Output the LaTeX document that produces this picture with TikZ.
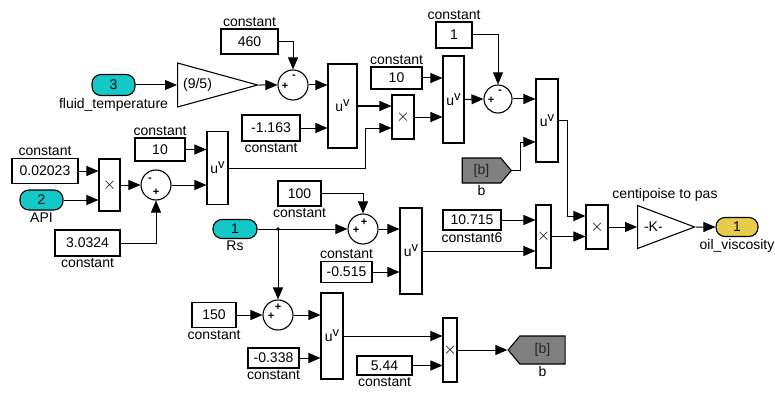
\documentclass[tikz,border=0pt]{standalone}
\usepackage{fontspec}
\setmainfont{Liberation Sans}
\usetikzlibrary{positioning,arrows.meta,shapes.geometric,shapes.symbols}
\definecolor{inportcyan}{RGB}{20,200,200}
\definecolor{outportyellow}{RGB}{230,204,77}
\definecolor{tagGray}{RGB}{128,128,128}
\newcommand{\upow}{u\raisebox{5pt}{\fontsize{13}{13}\selectfont v}}

\begin{document}
\begin{tikzpicture}[x=1pt, y=-1pt,
        font=\fontsize{14}{16}\selectfont,
        label distance=1pt,
        blk/.style={draw, line width=1.1pt, inner sep=0pt, fill=white},
        prod/.style={blk, font=\fontsize{18}{18}\selectfont},
        sumc/.style={draw, line width=1.1pt, circle, minimum size=30, inner sep=0pt},
        sg/.style={font=\fontsize{11}{11}\selectfont\bfseries, inner sep=0pt},
        port/.style={draw, line width=1.1pt, rounded corners=9pt, inner sep=0pt},
        gain/.style={draw, line width=1.1pt, isosceles triangle, isosceles triangle stretches,
            shape border rotate=0, inner sep=1pt},
        tag/.style={draw, line width=1.1pt, signal, fill=tagGray, signal pointer angle=100,
            inner sep=0pt, text=black!85},
        lbl/.style={inner sep=1pt},
        sig/.style={line width=1pt, -{Triangle[length=12pt,width=10pt]}},
    ]
    \useasboundingbox (0,0) rectangle (775,393);

    % inports and outport
    \node[port, fill=inportcyan, minimum width=43, minimum height=21,
        label={[lbl]below:fluid\_temperature}] (in3) at (113.5,85) {3};
    \node[port, fill=inportcyan, minimum width=43, minimum height=20,
        label={[lbl]below:API}] (in2) at (41.5,200) {2};
    \node[port, fill=inportcyan, minimum width=44, minimum height=19,
        label={[lbl]below:Rs}] (in1) at (235,229) {1};
    \node[port, fill=outportyellow, minimum width=42, minimum height=19,
        label={[lbl]below:oil\_viscosity}] (out1) at (737,227) {1};

    % constants
    \node[blk, minimum width=57, minimum height=25, label={[lbl]above:constant}] (c460) at (249.5,41.5) {460};
    \node[blk, minimum width=50, minimum height=23, label={[lbl]above:constant}] (c10a) at (160,149.5) {10};
    \node[blk, minimum width=66, minimum height=25, label={[lbl]above:constant}] (c02023) at (45,171) {0.02023};
    \node[blk, minimum width=65, minimum height=26, label={[lbl]below:constant}] (c30324) at (87.5,243) {3.0324};
    \node[blk, minimum width=58, minimum height=26, label={[lbl]below:constant}] (c1163) at (271,128) {-1.163};
    \node[blk, minimum width=51, minimum height=22, label={[lbl]above:constant}] (c10b) at (396.5,78) {10};
    \node[blk, minimum width=36, minimum height=26, label={[lbl]above:constant}] (c1) at (454,35) {1};
    \node[blk, minimum width=43, minimum height=25, label={[lbl]below:constant}] (c100) at (299.5,193.5) {100};
    \node[blk, minimum width=51, minimum height=21, label={[lbl]above:constant}] (c0515) at (346.5,272) {-0.515};
    \node[blk, minimum width=44, minimum height=25, label={[lbl]below:constant}] (c150) at (214,315) {150};
    \node[blk, minimum width=51, minimum height=20, label={[lbl]below:constant}] (c0338) at (273.5,358) {-0.338};
    \node[blk, minimum width=58, minimum height=20, label={[lbl]below:constant6}] (c10715) at (472,220) {10.715};
    \node[blk, minimum width=55, minimum height=19, label={[lbl]below:constant}] (c544) at (384.5,365.5) {5.44};

    % products
    \node[prod, minimum width=21, minimum height=52] (p1) at (109.5,185) {$\times$};
    \node[prod, minimum width=22, minimum height=44] (p2) at (403,117) {$\times$};
    \node[prod, minimum width=15, minimum height=63] (p3) at (543.5,236.5) {$\times$};
    \node[prod, minimum width=22, minimum height=44] (p4) at (597,227) {$\times$};
    \node[prod, minimum width=14, minimum height=64] (p5) at (450,350) {$\times$};

    % powers
    \node[blk, minimum width=21, minimum height=73] (pw1) at (217.5,168) {\upow};
    \node[blk, minimum width=29, minimum height=84] (pw2) at (342.5,106) {\upow};
    \node[blk, minimum width=21, minimum height=87] (pw3) at (453.5,99.5) {\upow};
    \node[blk, minimum width=22, minimum height=83] (pw4) at (547,120.5) {\upow};
    \node[blk, minimum width=22, minimum height=86] (pw5) at (411,251) {\upow};
    \node[blk, minimum width=22, minimum height=86] (pw6) at (332,336) {\upow};

    % sums
    \node[sumc] (s1) at (156,185) {};
    \node[sg] at ([shift={(-6,-5)}]s1.center) {-};
    \node[sg] at ([shift={(0,7)}]s1.center) {+};
    \node[sumc] (s2) at (293,85) {};
    \node[sg] at ([shift={(-8,1)}]s2.center) {+};
    \node[sg] at ([shift={(1,-8)}]s2.center) {-};
    \node[sumc, minimum size=28] (s3) at (498,99) {};
    \node[sg] at ([shift={(-7,1)}]s3.center) {+};
    \node[sg] at ([shift={(2,-7)}]s3.center) {-};
    \node[sumc] (s4) at (363,229) {};
    \node[sg] at ([shift={(-7,1)}]s4.center) {+};
    \node[sg] at ([shift={(1,-7)}]s4.center) {+};
    \node[sumc] (s5) at (278,315) {};
    \node[sg] at ([shift={(-7,1)}]s5.center) {+};
    \node[sg] at ([shift={(0,-8)}]s5.center) {+};

    % gains
    \node[gain, minimum height=80, minimum width=44, anchor=west] (g1) at (177,85) {(9/5)};
    \node[gain, minimum height=57, minimum width=43, anchor=west] (gK) at (637,227) {-K-};
    \node[lbl] (gKname) at (665,195) {centipoise to pas};

    % from / goto
    \node[tag, signal to=east, minimum width=49, minimum height=25,
        label={[lbl]below:b}] (fromb) at (481.5,170.5) {[b]};
    \node[tag, signal to=west, minimum width=57, minimum height=28,
        label={[lbl]below:b}] (gotob) at (542.5,350) {[b]};

    % wiring, left
    \draw[sig] (c02023.east) -- (c02023.east -| p1.west);
    \draw[sig] (in2.east) -- (in2.east -| p1.west);
    \draw[sig] (p1.east) -- (s1.west);
    \draw[sig] (c30324.east) -| (s1.south);
    \draw[sig] (s1.east) -- (s1.east -| pw1.west);
    \draw[sig] (c10a.east) -- (c10a.east -| pw1.west);
    \coordinate (k1) at (365,128);
    \draw[sig] (pw1.east) -| (k1) -- (k1 -| p2.west);

    % wiring, top
    \draw[sig] (in3.east) -- (g1.west);
    \draw[sig] (g1.apex) -- (s2.west);
    \draw[sig] (c460.east) -| (s2.north);
    \draw[sig] (s2.east) -- (s2.east -| pw2.west);
    \draw[sig] (c1163.east) -- (c1163.east -| pw2.west);
    \draw[sig] (pw2.east) -- (pw2.east -| p2.west);
    \draw[sig] (c10b.east) -- (c10b.east -| pw3.west);
    \draw[sig] (p2.east) -- (p2.east -| pw3.west);
    \draw[sig] (pw3.east) -- (s3.west);
    \draw[sig] (c1.east) -| (s3.north);
    \draw[sig] (s3.east) -- (s3.east -| pw4.west);
    \coordinate (k2) at (520,142);
    \draw[sig] (fromb.east) -| (k2) -- (k2 -| pw4.west);
    \coordinate (k3) at (567,216);
    \draw[sig] (pw4.east) -| (k3) -- (k3 -| p4.west);
    \draw[sig] (p3.east) -- (p3.east -| p4.west);
    \draw[sig] (p4.east) -- (gK.west);
    \draw[sig] (gK.apex) -- (out1.west);

    % wiring, middle
    \coordinate (rsdot) at (s5.north |- in1.east);
    \draw[sig] (in1.east) -- (s4.west);
    \fill (rsdot) circle (1.8);
    \draw[sig] (rsdot) -- (s5.north);
    \draw[sig] (c100.east) -| (s4.north);
    \draw[sig] (s4.east) -- (s4.east -| pw5.west);
    \draw[sig] (c0515.east) -- (c0515.east -| pw5.west);
    \draw[sig] (c10715.east) -- (c10715.east -| p3.west);
    \draw[sig] (pw5.east) -- (pw5.east -| p3.west);

    % wiring, bottom
    \draw[sig] (c150.east) -- (s5.west);
    \draw[sig] (s5.east) -- (s5.east -| pw6.west);
    \draw[sig] (c0338.east) -- (c0338.east -| pw6.west);
    \draw[sig] (pw6.east) -- (pw6.east -| p5.west);
    \draw[sig] (c544.east) -- (c544.east -| p5.west);
    \draw[sig] (p5.east) -- (gotob.west);
\end{tikzpicture}
\end{document}
